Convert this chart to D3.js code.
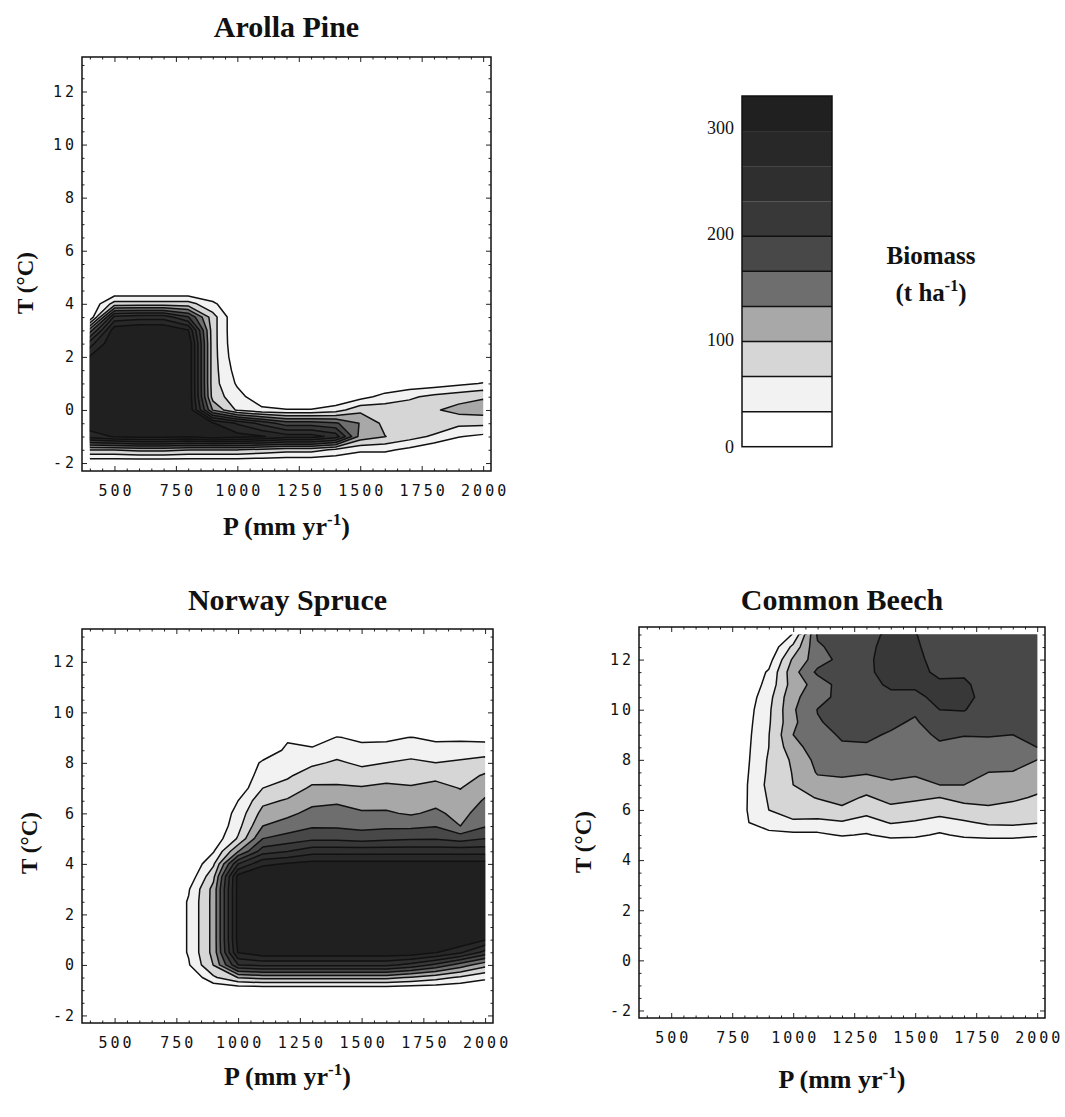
<!DOCTYPE html>
<html lang="en">
<head>
<meta charset="UTF-8">
<title>Biomass contours</title>
<style>
  body { margin: 0; background: #fff; }
  .tick text { font-family: "DejaVu Sans Mono", monospace; font-size: 15px; letter-spacing: 3px; fill: #111; }
  .serif { font-family: "Liberation Serif", "Times New Roman", serif; fill: #111; }
</style>
</head>
<body>
<svg width="1065" height="1117"></svg>

<script src="https://d3js.org/d3.v7.min.js"></script>
<script>
// grid columns (precipitation, mm/yr) and rows (temperature, top row first)
var P = [400,500,600,700,800,900,1000,1100,1200,1300,1400,1500,1600,1700,1800,1900,2000];
var T = [13,12.5,12,11.5,11,10.5,10,9.5,9,8.5,8,7.5,7,6.5,6,5.5,5,4.5,4,3.5,3,2.5,2,1.5,1,0.5,0,-0.5,-1,-1.5,-2];

// contour levels of biomass (t/ha) and the shade of each band
var levels = [33,66,99,132,165,198,231,264,297];
var legendTop = 330;
var shades = ["#ffffff","#f2f2f2","#d6d6d6","#a8a8a8","#6e6e6e","#484848","#383838","#2f2f2f","#282828","#202020"];

var xTicks = [500,750,1000,1250,1500,1750,2000];
var yTicks = [-2,0,2,4,6,8,10,12];
var legendTicks = [0,100,200,300];

// biomass, one row per T, one value per P
var arolla = [
  [0,0,0,0,0,0,0,0,0,0,0,0,0,0,0,0,0], // 13
  [0,0,0,0,0,0,0,0,0,0,0,0,0,0,0,0,0], // 12.5
  [0,0,0,0,0,0,0,0,0,0,0,0,0,0,0,0,0], // 12
  [0,0,0,0,0,0,0,0,0,0,0,0,0,0,0,0,0], // 11.5
  [0,0,0,0,0,0,0,0,0,0,0,0,0,0,0,0,0], // 11
  [0,0,0,0,0,0,0,0,0,0,0,0,0,0,0,0,0], // 10.5
  [0,0,0,0,0,0,0,0,0,0,0,0,0,0,0,0,0], // 10
  [0,0,0,0,0,0,0,0,0,0,0,0,0,0,0,0,0], // 9.5
  [0,0,0,0,0,0,0,0,0,0,0,0,0,0,0,0,0], // 9
  [0,0,0,0,0,0,0,0,0,0,0,0,0,0,0,0,0], // 8.5
  [0,0,0,0,0,0,0,0,0,0,0,0,0,0,0,0,0], // 8
  [0,0,0,0,0,0,0,0,0,0,0,0,0,0,0,0,0], // 7.5
  [0,0,0,0,0,0,0,0,0,0,0,0,0,0,0,0,0], // 7
  [0,0,0,0,0,0,0,0,0,0,0,0,0,0,0,0,0], // 6.5
  [0,0,0,0,0,0,0,0,0,0,0,0,0,0,0,0,0], // 6
  [0,0,0,0,0,0,0,0,0,0,0,0,0,0,0,0,0], // 5.5
  [0,0,0,0,0,0,0,0,0,0,0,0,0,0,0,0,0], // 5
  [0,0,0,0,0,0,0,0,0,0,0,0,0,0,0,0,0], // 4.5
  [0,80,80,80,80,40,0,0,0,0,0,0,0,0,0,0,0], // 4
  [0,240,250,250,200,80,0,0,0,0,0,0,0,0,0,0,0], // 3.5
  [150,320,330,330,300,80,0,0,0,0,0,0,0,0,0,0,0], // 3
  [250,330,330,330,330,80,2,0,0,0,0,0,0,0,0,0,0], // 2.5
  [300,330,330,330,330,80,8,0,0,0,0,0,0,0,0,0,0], // 2
  [320,330,330,330,330,80,18,0,0,0,0,0,0,0,0,0,0], // 1.5
  [330,330,330,330,330,80,28,0,0,0,0,0,0,10,15,25,35], // 1
  [330,330,330,330,330,85,45,10,0,0,0,20,45,60,75,85,95], // 0.5
  [330,330,330,330,330,130,60,40,35,35,50,90,85,85,95,110,115], // 0
  [320,330,330,330,330,300,260,220,180,180,170,130,90,90,95,75,75], // -0.5
  [280,300,310,310,300,320,310,300,280,280,250,120,100,80,60,35,25], // -1
  [100,100,110,110,100,100,100,90,80,80,60,40,40,25,5,0,0], // -1.5
  [0,0,0,0,0,0,0,0,0,0,0,0,0,0,0,0,0]  // -2
];

var spruce = [
  [0,0,0,0,0,0,0,0,0,0,0,0,0,0,0,0,0], // 13
  [0,0,0,0,0,0,0,0,0,0,0,0,0,0,0,0,0], // 12.5
  [0,0,0,0,0,0,0,0,0,0,0,0,0,0,0,0,0], // 12
  [0,0,0,0,0,0,0,0,0,0,0,0,0,0,0,0,0], // 11.5
  [0,0,0,0,0,0,0,0,0,0,0,0,0,0,0,0,0], // 11
  [0,0,0,0,0,0,0,0,0,0,0,0,0,0,0,0,0], // 10.5
  [0,0,0,0,0,0,0,0,0,0,0,0,0,0,0,0,0], // 10
  [0,0,0,0,0,0,0,0,0,0,0,0,0,0,0,0,0], // 9.5
  [0,0,0,0,0,0,0,0,28,12,35,26,26,34,26,26,22], // 9
  [0,0,0,0,0,0,0,10,40,40,52,44,47,53,47,51,53], // 8.5
  [0,0,0,0,0,0,0,39,50,60,71,60,66,72,66,71,78], // 8
  [0,0,0,0,0,0,0,52,61,83,87,80,88,87,91,84,103], // 7.5
  [0,0,0,0,0,0,10,66,79,105,104,102,106,102,109,98,120], // 7
  [0,0,0,0,0,0,33,90,103,123,127,119,120,115,122,109,136], // 6.5
  [0,0,0,0,0,0,45,111,124,142,145,136,136,128,139,121,149], // 6
  [0,0,0,0,0,0,55,132,147,161,160,155,158,158,163,132,162], // 5.5
  [0,0,0,0,0,10,70,165,178,191,190,185,190,194,195,185,198], // 5
  [0,0,0,0,0,30,130,215,230,250,250,250,250,250,250,250,250], // 4.5
  [0,0,0,0,0,60,230,290,300,310,310,310,310,310,310,310,310], // 4
  [0,0,0,0,10,90,310,330,330,330,330,330,330,330,330,330,330], // 3.5
  [0,0,0,0,30,110,310,330,330,330,330,330,330,330,330,330,330], // 3
  [0,0,0,0,36,110,310,330,330,330,330,330,330,330,330,330,330], // 2.5
  [0,0,0,0,36,110,310,330,330,330,330,330,330,330,330,330,330], // 2
  [0,0,0,0,36,110,310,330,330,330,330,330,330,330,330,330,330], // 1.5
  [0,0,0,0,36,110,310,330,330,330,330,330,330,330,330,330,300], // 1
  [0,0,0,0,36,110,300,320,320,320,320,320,320,320,300,270,220], // 0.5
  [0,0,0,0,30,100,230,240,240,240,240,240,240,220,190,150,110], // 0
  [0,0,0,0,0,60,100,110,110,110,110,110,110,95,80,60,40], // -0.5
  [0,0,0,0,0,0,0,0,0,0,0,0,0,0,0,0,0], // -1
  [0,0,0,0,0,0,0,0,0,0,0,0,0,0,0,0,0], // -1.5
  [0,0,0,0,0,0,0,0,0,0,0,0,0,0,0,0,0]  // -2
];

var beech = [
  [0,0,0,0,0,0,35,170,180,188,205,200,175,172,170,175,168], // 13
  [0,0,0,0,0,5,75,160,178,190,210,205,175,175,175,180,170], // 12.5
  [0,0,0,0,0,20,105,150,175,192,212,210,180,180,182,182,172], // 12
  [0,0,0,0,5,37,120,172,178,192,210,210,190,192,178,180,175], // 11.5
  [0,0,0,0,5,45,115,145,180,190,202,205,205,205,180,178,175], // 11
  [0,0,0,0,10,55,125,150,178,185,192,188,210,208,185,175,172], // 10.5
  [0,0,0,0,15,60,128,166,175,180,181,170,198,200,178,172,170], // 10
  [0,0,0,0,18,62,125,163,172,175,171,161,185,182,172,170,168], // 9.5
  [0,0,0,0,20,65,132,156,168,170,162,155,170,166,167,165,170], // 9
  [0,0,0,0,22,66,120,149,162,162,154,148,160,157,156,154,165], // 8.5
  [0,0,0,0,23,70,105,142,150,148,146,142,150,149,144,142,132], // 8
  [0,0,0,0,25,72,101,135,137,135,138,136,141,140,132,131,120], // 7.5
  [0,0,0,0,27,75,99,120,124,115,128,124,132,132,120,118,108], // 7
  [0,0,0,0,28,70,88,101,110,95,110,105,99,110,108,104,96], // 6.5
  [0,0,0,0,29,66,78,82,93,76,90,84,78,86,94,89,82], // 6
  [0,0,0,0,28,55,62,59,63,54,68,63,55,62,71,72,68], // 5.5
  [0,0,0,0,5,20,25,26,36,30,43,40,28,40,44,44,37], // 5
  [0,0,0,0,0,0,0,0,0,0,0,0,0,0,0,0,0], // 4.5
  [0,0,0,0,0,0,0,0,0,0,0,0,0,0,0,0,0], // 4
  [0,0,0,0,0,0,0,0,0,0,0,0,0,0,0,0,0], // 3.5
  [0,0,0,0,0,0,0,0,0,0,0,0,0,0,0,0,0], // 3
  [0,0,0,0,0,0,0,0,0,0,0,0,0,0,0,0,0], // 2.5
  [0,0,0,0,0,0,0,0,0,0,0,0,0,0,0,0,0], // 2
  [0,0,0,0,0,0,0,0,0,0,0,0,0,0,0,0,0], // 1.5
  [0,0,0,0,0,0,0,0,0,0,0,0,0,0,0,0,0], // 1
  [0,0,0,0,0,0,0,0,0,0,0,0,0,0,0,0,0], // 0.5
  [0,0,0,0,0,0,0,0,0,0,0,0,0,0,0,0,0], // 0
  [0,0,0,0,0,0,0,0,0,0,0,0,0,0,0,0,0], // -0.5
  [0,0,0,0,0,0,0,0,0,0,0,0,0,0,0,0,0], // -1
  [0,0,0,0,0,0,0,0,0,0,0,0,0,0,0,0,0], // -1.5
  [0,0,0,0,0,0,0,0,0,0,0,0,0,0,0,0,0]  // -2
];

var svg = d3.select("svg");

// where each map sits on the page
var panels = [
  {title:"Arolla Pine",   grid:arolla, left:82,  right:491,  top:57,  bottom:471,  titleY:37,  xLabelY:535,  yLabelX:33,  yLabelY:283},
  {title:"Norway Spruce", grid:spruce, left:82,  right:493,  top:629, bottom:1023, titleY:610, xLabelY:1085, yLabelX:37,  yLabelY:843},
  {title:"Common Beech",  grid:beech,  left:639, right:1045, top:627, bottom:1018, titleY:610, xLabelY:1088, yLabelX:591, yLabelY:842}
];

panels.forEach(function(p, k){
  var x = d3.scaleLinear().domain([368, 2032]).range([p.left, p.right]);
  var y = d3.scaleLinear().domain([-2.3, 13.3]).range([p.bottom, p.top]);
  var g = svg.append("g");

  var nx = P.length, ny = T.length;
  var dP = P[1] - P[0], dT = T[0] - T[1];
  var contours = d3.contours().size([nx, ny]).thresholds(levels)(d3.merge(p.grid));

  // grid coords -> page coords (sample i sits at i + 0.5)
  var proj = d3.geoTransform({
    point: function(gx, gy){
      this.stream.point(x(P[0] + dP*(gx - 0.5)), y(T[0] - dT*(gy - 0.5)));
    }
  });
  var path = d3.geoPath(proj);

  var clipId = "clip" + k;
  svg.append("clipPath").attr("id", clipId).append("rect")
    .attr("x", x(P[0])).attr("y", y(T[0]))
    .attr("width", x(P[nx-1]) - x(P[0]))
    .attr("height", y(T[ny-1]) - y(T[0]));

  var cg = g.append("g").attr("clip-path", "url(#" + clipId + ")");
  cg.selectAll("path.fill").data(contours).enter().append("path")
    .attr("class", "fill")
    .attr("d", path)
    .attr("fill", function(d, i){ return shades[i+1]; });
  cg.selectAll("path.iso").data(contours).enter().append("path")
    .attr("class", "iso")
    .attr("d", path)
    .attr("fill", "none")
    .attr("stroke", "#111")
    .attr("stroke-width", 1.5)
    .attr("stroke-linejoin", "round");

  // ticks on all four sides, pointing in
  var xMinor = d3.range(400, 2001, 50).filter(function(v){ return xTicks.indexOf(v) < 0; });
  var yMinor = d3.range(-2, 13.01, 0.5).filter(function(v){ return yTicks.indexOf(v) < 0; });

  var bottomAxis = g.append("g").attr("transform", "translate(0," + p.bottom + ")")
    .call(d3.axisBottom(x).tickValues(xTicks).tickSizeInner(-5).tickSizeOuter(0).tickPadding(14)
      .tickFormat(function(d){ return String(d); }));
  bottomAxis.selectAll("text").attr("dx", 1.5);
  g.append("g").attr("transform", "translate(0," + p.bottom + ")")
    .call(d3.axisBottom(x).tickValues(xMinor).tickSizeInner(-2.5).tickSizeOuter(0).tickFormat(""));
  g.append("g").attr("transform", "translate(0," + p.top + ")")
    .call(d3.axisTop(x).tickValues(xTicks).tickSizeInner(-5).tickSizeOuter(0).tickFormat(""));
  g.append("g").attr("transform", "translate(0," + p.top + ")")
    .call(d3.axisTop(x).tickValues(xMinor).tickSizeInner(-2.5).tickSizeOuter(0).tickFormat(""));

  g.append("g").attr("transform", "translate(" + p.left + ",0)")
    .call(d3.axisLeft(y).tickValues(yTicks).tickSizeInner(-5).tickSizeOuter(0).tickPadding(5)
      .tickFormat(function(d){ return String(d); }));
  g.append("g").attr("transform", "translate(" + p.left + ",0)")
    .call(d3.axisLeft(y).tickValues(yMinor).tickSizeInner(-2.5).tickSizeOuter(0).tickFormat(""));
  g.append("g").attr("transform", "translate(" + p.right + ",0)")
    .call(d3.axisRight(y).tickValues(yTicks).tickSizeInner(-5).tickSizeOuter(0).tickFormat(""));
  g.append("g").attr("transform", "translate(" + p.right + ",0)")
    .call(d3.axisRight(y).tickValues(yMinor).tickSizeInner(-2.5).tickSizeOuter(0).tickFormat(""));

  g.selectAll(".domain").remove();
  g.selectAll(".tick line").attr("stroke", "#222");

  // frame
  g.append("rect")
    .attr("x", p.left).attr("y", p.top)
    .attr("width", p.right - p.left).attr("height", p.bottom - p.top)
    .attr("fill", "none").attr("stroke", "#111").attr("stroke-width", 1.5);

  var cx = (p.left + p.right) / 2;

  g.append("text").attr("class", "serif")
    .attr("x", cx).attr("y", p.titleY)
    .attr("text-anchor", "middle")
    .style("font-size", "30px").style("font-weight", "bold")
    .text(p.title);

  g.append("text").attr("class", "serif")
    .attr("transform", "translate(" + p.yLabelX + "," + p.yLabelY + ") rotate(-90)")
    .attr("text-anchor", "middle")
    .style("font-size", "23px").style("font-weight", "bold")
    .text("T (°C)");

  var xl = g.append("text").attr("class", "serif")
    .attr("x", cx).attr("y", p.xLabelY)
    .attr("text-anchor", "middle")
    .style("font-size", "26px").style("font-weight", "bold");
  xl.append("tspan").text("P (mm yr");
  xl.append("tspan").attr("dy", -10).style("font-size", "17px").text("-1");
  xl.append("tspan").attr("dy", 10).text(")");
});

// legend bar: shaded bands, separators only where the shade visibly changes
var ly = d3.scaleLinear().domain([0, legendTop]).range([446.7, 96]);
var edges = [0].concat(levels, [legendTop]);
var lg = svg.append("g");

lg.selectAll("rect.band").data(shades).enter().append("rect")
  .attr("class", "band")
  .attr("x", 742)
  .attr("width", 90)
  .attr("y", function(d, i){ return ly(edges[i+1]); })
  .attr("height", function(d, i){ return ly(edges[i]) - ly(edges[i+1]); })
  .attr("fill", function(d){ return d; });

lg.selectAll("line.sep").data(levels.filter(function(v){ return v <= 198; })).enter().append("line")
  .attr("class", "sep")
  .attr("x1", 742).attr("x2", 832)
  .attr("y1", function(d){ return ly(d); }).attr("y2", function(d){ return ly(d); })
  .attr("stroke", "#111").attr("stroke-width", 1.5);

lg.append("rect")
  .attr("x", 742).attr("y", ly(legendTop))
  .attr("width", 90).attr("height", ly(0) - ly(legendTop))
  .attr("fill", "none").attr("stroke", "#111").attr("stroke-width", 1.5);

lg.selectAll("text.lab").data(legendTicks).enter().append("text")
  .attr("class", "lab serif")
  .attr("x", 734)
  .attr("y", function(d){ return ly(d) + 6; })
  .attr("text-anchor", "end")
  .style("font-size", "18px")
  .text(function(d){ return d; });

lg.append("text").attr("class", "serif")
  .attr("x", 931).attr("y", 264)
  .attr("text-anchor", "middle")
  .style("font-size", "25px").style("font-weight", "bold")
  .text("Biomass");

var unit = lg.append("text").attr("class", "serif")
  .attr("x", 931).attr("y", 301)
  .attr("text-anchor", "middle")
  .style("font-size", "25px").style("font-weight", "bold");
unit.append("tspan").text("(t ha");
unit.append("tspan").attr("dy", -10).style("font-size", "16px").text("-1");
unit.append("tspan").attr("dy", 10).text(")");
</script>
</body>
</html>
